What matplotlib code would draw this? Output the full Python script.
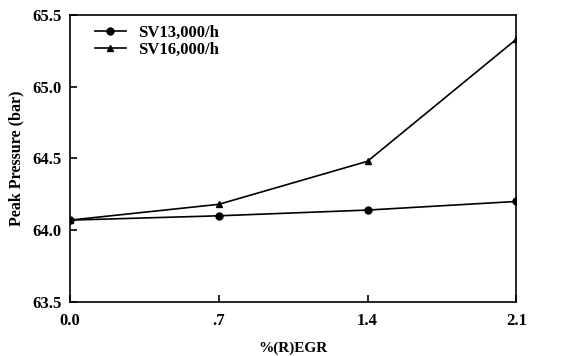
import matplotlib
matplotlib.use("Agg")
import matplotlib.pyplot as plt

egr = [0.0, 0.7, 1.4, 2.1]
egr_labels = ["0.0", ".7", "1.4", "2.1"]
sv13 = [64.07, 64.10, 64.14, 64.20]
sv16 = [64.07, 64.18, 64.48, 65.33]
y_ticks = [63.5, 64.0, 64.5, 65.0, 65.5]

plt.rcParams['font.family'] = 'Liberation Serif'
plt.rcParams['font.weight'] = 'bold'

fig = plt.figure(figsize=(5.67, 3.56), dpi=100)
ax = fig.add_axes([0.1235, 0.152, 0.787, 0.806])

ax.plot(egr, sv13, color="black", marker="o", markersize=5, linewidth=1.2, label="SV13,000/h")
ax.plot(egr, sv16, color="black", marker="^", markersize=5, linewidth=1.2, label="SV16,000/h")

ax.set_xlim(0, 2.1)
ax.set_ylim(63.5, 65.5)
ax.set_xticks(egr)
ax.set_xticklabels(egr_labels)
ax.set_yticks(y_ticks)
ax.set_yticklabels([f"{v:.1f}" for v in y_ticks])
ax.tick_params(direction="in", length=5, width=1.2, labelsize=12)
ax.tick_params(axis="x", pad=8)
ax.tick_params(axis="y", pad=6)
for s in ax.spines.values():
    s.set_linewidth(1.2)

ax.set_xlabel("%(R)EGR", fontsize=11, fontweight="bold", labelpad=9)
ax.set_ylabel("Peak Pressure (bar)", fontsize=11.5, fontweight="bold", labelpad=6)

ax.legend(loc="upper left", bbox_to_anchor=(0.04, 0.99), frameon=False,
          handlelength=1.9, handletextpad=0.7, borderaxespad=0.0, labelspacing=0.1,
          prop={"weight": "bold", "size": 12})

fig.savefig("out.png", dpi=100)
